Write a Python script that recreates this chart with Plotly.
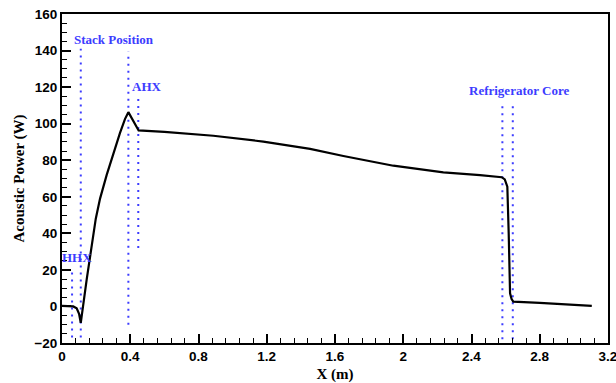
import plotly.graph_objects as go

# Acoustic power curve
x_pos = [0.0, 0.04, 0.066, 0.086, 0.1, 0.11, 0.145, 0.198, 0.223, 0.262, 0.301, 0.34,
         0.369, 0.389, 0.449, 0.6, 0.887, 1.18, 1.454, 1.649, 1.942, 2.235, 2.45,
         2.577, 2.595, 2.61, 2.618, 2.626, 2.635, 2.645, 2.8, 3.0, 3.105]
power = [0.3, 0.2, 0.0, -1.0, -4.0, -9.0, 15.0, 48.0, 59.0, 72.0, 84.0, 95.0,
         102.5, 106.3, 96.3, 95.5, 93.4, 90.2, 86.2, 82.3, 77.0, 73.4, 71.8,
         70.7, 69.5, 65.5, 40.0, 7.2, 4.0, 2.6, 2.0, 1.0, 0.3]

# Axis ticks
x_ticks = [0, 0.4, 0.8, 1.2, 1.6, 2.0, 2.4, 2.8, 3.2]
x_tick_text = ["0", "0.4", "0.8", "1.2", "1.6", "2", "2.4", "2.8", "3.2"]
y_ticks = [-20, 0, 20, 40, 60, 80, 100, 120, 140, 160]

# Dotted marker lines: x position, y bottom, y top
marker_x = [0.059, 0.11, 0.389, 0.447, 2.581, 2.642]
marker_y0 = [-17, -17, -10, 32, -18, -18]
marker_y1 = [21, 141, 139.5, 115.5, 112, 112]

# Labels
label_text = ["HHX", "Stack Position", "AHX", "Refrigerator Core"]
label_x = [0.086, 0.305, 0.5, 2.68]
label_y = [27, 145.8, 120.3, 118.4]

blue = "#3c3cff"
fig = go.Figure()

for xv, y0, y1 in zip(marker_x, marker_y0, marker_y1):
    fig.add_trace(go.Scatter(x=[xv, xv], y=[y0, y1], mode="lines",
                             line=dict(color=blue, width=2, dash="2px,5px"),
                             showlegend=False, hoverinfo="skip"))

fig.add_trace(go.Scatter(x=x_pos, y=power, mode="lines",
                         line=dict(color="black", width=2.2),
                         showlegend=False))

for t, xv, yv in zip(label_text, label_x, label_y):
    fig.add_annotation(x=xv, y=yv, text=t, showarrow=False,
                       font=dict(family="Liberation Serif", size=13, color=blue, weight="bold"))

tickfont = dict(family="Liberation Sans", size=13.5, color="black", weight="bold")
titlefont = dict(family="Liberation Serif", size=15, color="black", weight="bold")

fig.update_xaxes(range=[0, 3.2], tickmode="array", tickvals=x_ticks, ticktext=x_tick_text,
                 ticks="inside", ticklen=9, tickwidth=1.5,
                 tickcolor="black", showline=True, linewidth=2, linecolor="black", mirror=True,
                 showgrid=False, zeroline=False, tickfont=tickfont, automargin=False,
                 ticklabeloverflow="allow",
                 minor=dict(tick0=0, dtick=0.08, ticks="inside", ticklen=5, tickwidth=1.2, tickcolor="black"),
                 title=dict(text="X (m)", font=titlefont, standoff=8))
fig.update_yaxes(range=[-20, 160], tickmode="array", tickvals=y_ticks,
                 ticks="inside", ticklen=9, tickwidth=1.5,
                 tickcolor="black", showline=True, linewidth=2, linecolor="black", mirror=True,
                 showgrid=False, zeroline=False, tickfont=tickfont, automargin=False,
                 ticklabeloverflow="allow",
                 minor=dict(tick0=0, dtick=5, ticks="inside", ticklen=5, tickwidth=1.2, tickcolor="black"),
                 title=dict(text="Acoustic Power (W)", font=titlefont, standoff=6))

fig.update_layout(width=616, height=383, margin=dict(l=62, r=8, t=14, b=40),
                  plot_bgcolor="white", paper_bgcolor="white")

fig.write_html("out.html")
